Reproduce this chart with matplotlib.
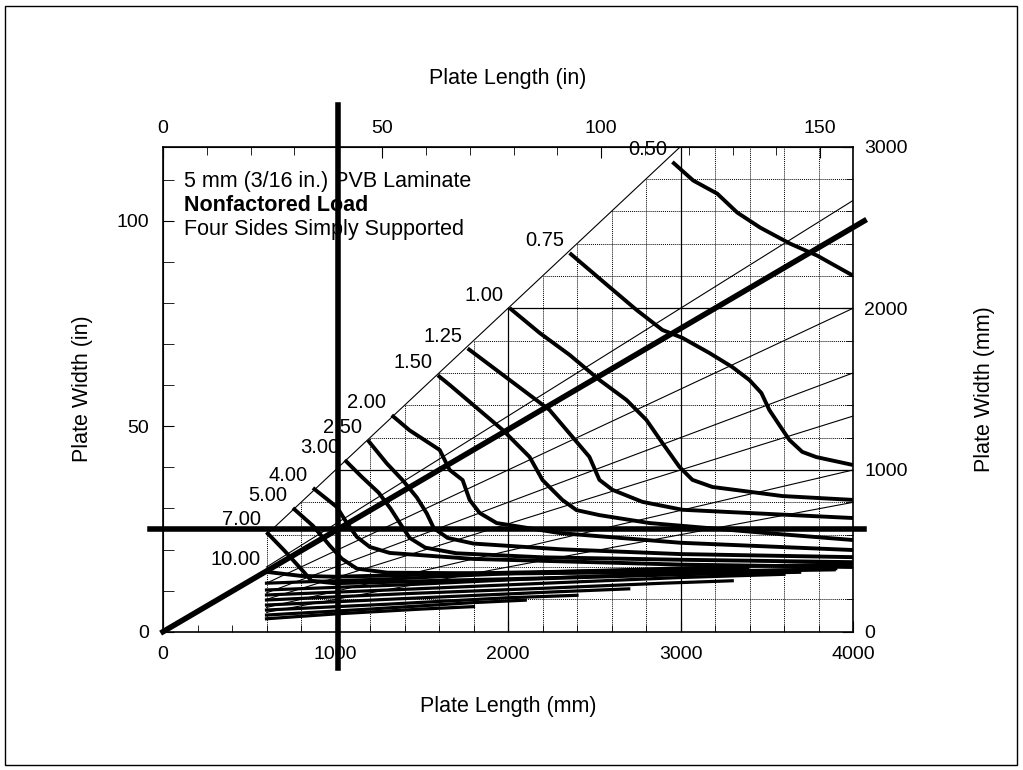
import numpy as np
import matplotlib.pyplot as plt

plt.rcParams.update({
    "font.family": ["Liberation Sans", "DejaVu Sans"],
    "font.size": 12,
})

MM_PER_IN = 25.4

# load contours (kPa), points in mm (length, width)
loads = ["0.50", "0.75", "1.00", "1.25", "1.50", "2.00", "2.50", "3.00",
         "4.00", "5.00", "7.00", "10.00"]
curve_x = {
    "0.50": [2953, 3074, 3213, 3329, 3462, 3635, 3792, 4000],
    "0.75": [2357, 2588, 2745, 2895, 3011, 3167, 3300, 3399, 3469, 3515, 3573, 3631, 3706, 3787, 4000],
    "1.00": [2009, 2183, 2357, 2530, 2687, 2802, 2895, 2994, 3069, 3185, 3324, 3590, 4000],
    "1.25": [1766, 1998, 2241, 2374, 2472, 2530, 2606, 2779, 3011, 4000],
    "1.50": [1593, 1662, 1969, 2125, 2200, 2241, 2316, 2397, 2530, 2820, 3500, 4000],
    "2.00": [1326, 1430, 1604, 1662, 1737, 1778, 1836, 1934, 2300, 3000, 4000],
    "2.50": [1187, 1297, 1390, 1471, 1529, 1570, 1650, 1800, 2300, 3000, 4000],
    "3.00": [1054, 1150, 1250, 1320, 1380, 1430, 1520, 1700, 2200, 3000, 4000],
    "4.00": [869, 1008, 1066, 1124, 1199, 1315, 1800, 3000, 4000],
    "5.00": [753, 869, 968, 1037, 1124, 1300, 2000, 3000, 3900],
    "7.00": [600, 704, 820, 860, 993, 1400, 2200, 3000, 3700],
    "10.00": [600, 800, 1000, 1400, 2000, 2800, 3400],
}
curve_y = {
    "0.50": [2905, 2790, 2709, 2592, 2499, 2400, 2326, 2202],
    "0.75": [2342, 2132, 1990, 1866, 1817, 1724, 1637, 1557, 1476, 1371, 1278, 1186, 1112, 1080, 1031],
    "1.00": [2002, 1848, 1712, 1557, 1433, 1310, 1167, 1019, 939, 895, 876, 839, 815],
    "1.25": [1752, 1566, 1371, 1204, 1081, 939, 877, 803, 754, 703],
    "1.50": [1586, 1526, 1248, 1081, 938, 894, 814, 752, 721, 672, 610, 567],
    "2.00": [1339, 1245, 1124, 1000, 938, 814, 734, 672, 610, 550, 505],
    "2.50": [1185, 1041, 936, 831, 732, 640, 580, 545, 510, 480, 461],
    "3.00": [1062, 960, 860, 760, 660, 580, 520, 485, 460, 445, 430],
    "4.00": [889, 771, 672, 586, 524, 487, 450, 415, 400],
    "5.00": [765, 655, 531, 451, 390, 365, 360, 370, 385],
    "7.00": [616, 501, 365, 315, 300, 310, 330, 355, 370],
    "10.00": [370, 345, 340, 350, 365, 380, 390],
}

# unlabelled higher-load tails in the narrow-plate band
band_x = [
    [600, 1400, 2241, 3200, 4000],
    [600, 1400, 2241, 3200, 3900],
    [600, 1400, 2241, 3000, 3600],
    [600, 1400, 2241, 2900, 3300],
    [600, 1400, 2241, 2700],
    [600, 1300, 2000, 2400],
    [600, 1200, 1800, 2100],
    [600, 1000, 1500, 1800],
]
band_y = [
    [300, 330, 370, 400, 420],
    [258, 290, 332, 370, 390],
    [227, 262, 301, 335, 355],
    [196, 235, 270, 300, 315],
    [165, 205, 245, 265],
    [134, 170, 210, 225],
    [103, 140, 180, 195],
    [80, 110, 140, 155],
]

# aspect-ratio guide lines (length / width)
aspect_ratios = [1.0, 1.5, 2.0, 2.5, 3.0, 4.0, 5.0]

# design case overlay
case_length = 40 * MM_PER_IN
case_width = 25 * MM_PER_IN

fig = plt.figure(figsize=(10.23, 7.70), dpi=100)
ax = fig.add_axes([163 / 1023, 138.3 / 770, 690 / 1023, 485.1 / 770])
ax.set_xlim(0, 4000)
ax.set_ylim(0, 3000)

# grid, clipped to the chart region (x >= 600, y <= x)
for gx in range(600, 4001, 200):
    solid = gx % 1000 == 0
    ax.plot([gx, gx], [0, min(gx, 3000)], color="black",
            lw=0.9 if solid else 0.7, ls="-" if solid else (0, (1, 1)), zorder=1)
for gy in range(200, 3000, 200):
    solid = gy % 1000 == 0
    ax.plot([max(600, gy), 4000], [gy, gy], color="black",
            lw=0.9 if solid else 0.7, ls="-" if solid else (0, (1, 1)), zorder=1)

for ar in aspect_ratios:
    xs = np.array([600, 4000.0])
    if ar == 1.0:
        xs = np.array([600, 3000.0])
    ax.plot(xs, xs / ar, color="black", lw=0.8, zorder=2)

for bx, by in zip(band_x, band_y):
    ax.plot(bx, by, color="black", lw=2.3, zorder=3)

for name in loads:
    ax.plot(curve_x[name], curve_y[name], color="black", lw=2.8,
            solid_capstyle="butt", zorder=3)
    ax.annotate(name, (curve_x[name][0], curve_y[name][0]), xytext=(-4, 2),
                textcoords="offset points", ha="right", va="bottom",
                fontsize=14.5)

# design point lines
ax.plot([case_length, case_length], [-225, 3260], color="black", lw=4, clip_on=False, zorder=4)
ax.plot([-75, 4065], [case_width, case_width], color="black", lw=4, clip_on=False, zorder=4)
ax.plot([0, 4065], [0, 4065 * case_width / case_length], color="black", lw=4,
        clip_on=False, zorder=4)

ax.text(0.03, 0.95, "5 mm (3/16 in.) PVB Laminate", transform=ax.transAxes,
        ha="left", va="top", fontsize=15.5)
ax.text(0.03, 0.90, "Nonfactored Load", transform=ax.transAxes,
        ha="left", va="top", fontsize=15.5, fontweight="bold")
ax.text(0.03, 0.85, "Four Sides Simply Supported", transform=ax.transAxes,
        ha="left", va="top", fontsize=15.5)

# mm axes: bottom and right
ax.set_xticks([0, 1000, 2000, 3000, 4000])
ax.set_xticks(np.arange(0, 4001, 200), minor=True)
ax.yaxis.tick_right()
ax.yaxis.set_label_position("right")
ax.set_yticks([0, 1000, 2000, 3000])
ax.set_yticks(np.arange(0, 3001, 200), minor=True)
ax.tick_params(which="both", direction="in", labelsize=14)
ax.tick_params(axis="x", pad=10)
ax.tick_params(axis="y", pad=8)
ax.tick_params(which="major", length=8)
ax.tick_params(which="minor", length=5)
ax.set_xlabel("Plate Length (mm)", fontsize=15.5, labelpad=24)
ax.set_ylabel("Plate Width (mm)", fontsize=15.5, labelpad=48)

# inch axes: top and left
to_in = (lambda v: v / MM_PER_IN, lambda v: v * MM_PER_IN)
top = ax.secondary_xaxis("top", functions=to_in)
top.set_xticks([0, 50, 100, 150])
top.set_xticks(np.arange(0, 160, 10), minor=True)
top.tick_params(which="both", direction="in", labelsize=14, pad=7)
top.tick_params(which="major", length=8)
top.tick_params(which="minor", length=6)
top.set_xlabel("Plate Length (in)", fontsize=15.5, labelpad=26)

left = ax.secondary_yaxis("left", functions=to_in)
left.set_yticks([0, 50, 100])
left.set_yticks(np.arange(0, 120, 10), minor=True)
left.tick_params(which="both", direction="in", labelsize=14, pad=10)
left.tick_params(which="major", length=8)
left.tick_params(which="minor", length=8)
left.set_ylabel("Plate Width (in)", fontsize=15.5, labelpad=17)

for sp in ax.spines.values():
    sp.set_linewidth(1.2)

# outer frame
fig.patches.append(plt.Rectangle((5 / 1023, 5 / 770), 1012 / 1023, 759 / 770,
                                 transform=fig.transFigure, fill=False,
                                 edgecolor="black", lw=1.0))

fig.savefig("out.png", dpi=100)
